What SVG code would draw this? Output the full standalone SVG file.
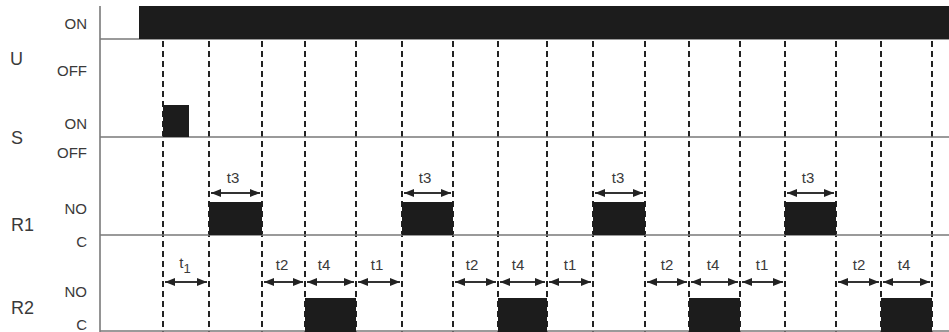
<svg xmlns="http://www.w3.org/2000/svg" width="949" height="332" viewBox="0 0 949 332">
<defs>
<style>
.axis{stroke:#7a7a7a;stroke-width:1.6;fill:none}
.guide{stroke:#222;stroke-width:2;stroke-dasharray:6 4;fill:none}
.pulse{fill:#1c1c1c}
.sig{font-family:"Liberation Sans",Arial,sans-serif;font-size:18px;fill:#3a3a3a}
.lvl{font-family:"Liberation Sans",Arial,sans-serif;font-size:15px;fill:#3a3a3a;text-anchor:end}
.tl{font-family:"Liberation Sans",Arial,sans-serif;font-size:15px;fill:#3a3a3a;text-anchor:middle}
.arr{stroke:#333;stroke-width:2;fill:none;marker-start:url(#ah);marker-end:url(#ah)}
</style>
<marker id="ah" markerUnits="userSpaceOnUse" markerWidth="11" markerHeight="9" refX="10" refY="4" orient="auto-start-reverse">
<path d="M0,0 L10,4 L0,8 z" fill="#222"/>
</marker>
</defs>
<rect width="949" height="332" fill="#fff"/>

<g id="guides">
<path class="guide" d="M163,41V332 M209,41V332 M262,41V332 M305,41V332 M356,41V332 M402,41V332 M453,41V332 M498,41V332 M547,41V332 M593,41V332 M645,41V332 M689,41V332 M740,41V332 M785,41V332 M836,41V332 M881,41V332 M932,41V332"/>
</g>

<g id="axes">
<path class="axis" d="M100,6V332 M100,39H949 M100,137H949 M100,235H949 M100,331H949"/>
</g>

<g id="U">
<text class="sig" x="10" y="65">U</text>
<text class="lvl" x="87" y="29">ON</text>
<text class="lvl" x="87" y="76">OFF</text>
<rect class="pulse" x="139" y="6" width="810" height="33"/>
</g>

<g id="S">
<text class="sig" x="11" y="144">S</text>
<text class="lvl" x="87" y="129">ON</text>
<text class="lvl" x="87" y="158">OFF</text>
<rect class="pulse" x="163" y="105" width="26" height="32"/>
</g>

<g id="R1">
<text class="sig" x="11" y="231">R1</text>
<text class="lvl" x="87" y="214">NO</text>
<text class="lvl" x="87" y="247">C</text>
<rect class="pulse" x="209" y="202" width="53" height="33"/>
<rect class="pulse" x="402" y="202" width="51" height="33"/>
<rect class="pulse" x="593" y="202" width="52" height="33"/>
<rect class="pulse" x="785" y="202" width="51" height="33"/>
</g>

<g id="R2">
<text class="sig" x="11" y="314">R2</text>
<text class="lvl" x="87" y="297">NO</text>
<text class="lvl" x="87" y="330">C</text>
<rect class="pulse" x="305" y="298" width="51" height="34"/>
<rect class="pulse" x="498" y="298" width="49" height="34"/>
<rect class="pulse" x="689" y="298" width="51" height="34"/>
<rect class="pulse" x="881" y="298" width="51" height="34"/>
</g>

<g id="connectors">
<path class="arr" d="M211,193H260"/>
<path class="arr" d="M404,193H451"/>
<path class="arr" d="M595,193H643"/>
<path class="arr" d="M787,193H834"/>
<path class="arr" d="M165,282H207"/>
<path class="arr" d="M264,282H303"/>
<path class="arr" d="M307,282H354"/>
<path class="arr" d="M358,282H400"/>
<path class="arr" d="M455,282H496"/>
<path class="arr" d="M500,282H545"/>
<path class="arr" d="M549,282H591"/>
<path class="arr" d="M647,282H687"/>
<path class="arr" d="M691,282H738"/>
<path class="arr" d="M742,282H783"/>
<path class="arr" d="M838,282H879"/>
<path class="arr" d="M883,282H930"/>
</g>

<g id="timing-labels">
<text class="tl" x="233" y="183">t3</text>
<text class="tl" x="425" y="183">t3</text>
<text class="tl" x="618" y="183">t3</text>
<text class="tl" x="808" y="183">t3</text>
<text class="tl" x="185" y="268">t<tspan font-size="13" dy="5">1</tspan></text>
<text class="tl" x="282" y="270">t2</text>
<text class="tl" x="324" y="270">t4</text>
<text class="tl" x="377" y="270">t1</text>
<text class="tl" x="472" y="270">t2</text>
<text class="tl" x="518" y="270">t4</text>
<text class="tl" x="570" y="270">t1</text>
<text class="tl" x="667" y="270">t2</text>
<text class="tl" x="713" y="270">t4</text>
<text class="tl" x="762" y="270">t1</text>
<text class="tl" x="859" y="270">t2</text>
<text class="tl" x="904" y="270">t4</text>
</g>
</svg>
